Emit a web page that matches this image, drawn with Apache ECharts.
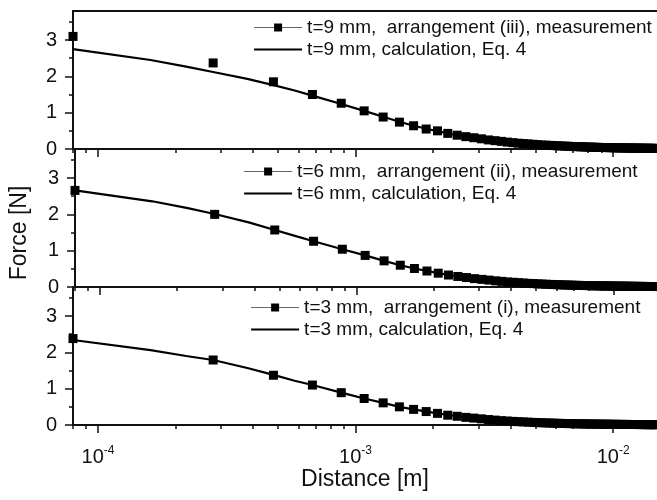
<!DOCTYPE html>
<html>
<head>
<meta charset="utf-8">
<script src="https://cdn.jsdelivr.net/npm/echarts@6/dist/echarts.min.js"></script>
<style>
  html, body { margin: 0; padding: 0; background: #fff; }
  #chart { width: 657px; height: 500px; }
</style>
</head>
<body>
<div id="chart"></div>
<script>
// measured points, distance in m
var distance = [
  0.08e-3, 0.28e-3, 0.48e-3, 0.68e-3, 0.88e-3, 1.08e-3, 1.28e-3, 1.48e-3, 1.68e-3, 1.88e-3,
  2.08e-3, 2.28e-3, 2.48e-3, 2.68e-3, 2.88e-3, 3.08e-3, 3.28e-3, 3.48e-3, 3.68e-3, 3.88e-3,
  4.08e-3, 4.28e-3, 4.48e-3, 4.68e-3, 4.88e-3, 5.08e-3, 5.28e-3, 5.48e-3, 5.68e-3, 5.88e-3,
  6.08e-3, 6.28e-3, 6.48e-3, 6.68e-3, 6.88e-3, 7.08e-3, 7.28e-3, 7.48e-3, 7.68e-3, 7.88e-3,
  8.08e-3, 8.28e-3, 8.48e-3, 8.68e-3, 8.88e-3, 9.08e-3, 9.28e-3, 9.48e-3, 9.68e-3, 9.88e-3,
  10.08e-3, 10.28e-3, 10.48e-3, 10.68e-3, 10.88e-3, 11.08e-3, 11.28e-3, 11.48e-3, 11.68e-3, 11.88e-3,
  12.08e-3, 12.28e-3, 12.48e-3, 12.68e-3, 12.88e-3, 13.08e-3, 13.28e-3, 13.48e-3, 13.68e-3, 13.88e-3,
  14.08e-3, 14.28e-3, 14.48e-3, 14.68e-3
];
var force9 = [
  3.10, 2.37, 1.85, 1.50, 1.26, 1.05, 0.88, 0.74, 0.64, 0.55,
  0.50, 0.43, 0.38, 0.34, 0.31, 0.28, 0.25, 0.23, 0.21, 0.19,
  0.175, 0.16, 0.15, 0.14, 0.13, 0.12, 0.11, 0.105, 0.10, 0.094,
  0.089, 0.084, 0.079, 0.075, 0.071, 0.067, 0.064, 0.061, 0.058, 0.055,
  0.053, 0.050, 0.048, 0.046, 0.044, 0.042, 0.040, 0.039, 0.037, 0.036,
  0.034, 0.033, 0.032, 0.031, 0.030, 0.029, 0.028, 0.027, 0.026, 0.025,
  0.024, 0.024, 0.023, 0.022, 0.022, 0.021, 0.020, 0.020, 0.019, 0.019,
  0.018, 0.018, 0.017, 0.017
];
var force6 = [
  2.66, 2.00, 1.57, 1.26, 1.04, 0.87, 0.72, 0.60, 0.51, 0.44,
  0.38, 0.33, 0.29, 0.26, 0.23, 0.21, 0.19, 0.17, 0.155, 0.14,
  0.13, 0.12, 0.11, 0.10, 0.094, 0.087, 0.081, 0.076, 0.071, 0.067,
  0.063, 0.059, 0.056, 0.053, 0.050, 0.047, 0.045, 0.043, 0.041, 0.039,
  0.037, 0.035, 0.034, 0.032, 0.031, 0.030, 0.029, 0.028, 0.027, 0.026,
  0.025, 0.024, 0.023, 0.022, 0.022, 0.021, 0.020, 0.020, 0.019, 0.018,
  0.018, 0.017, 0.017, 0.016, 0.016, 0.015, 0.015, 0.015, 0.014, 0.014,
  0.013, 0.013, 0.013, 0.012
];
var force3 = [
  2.38, 1.79, 1.37, 1.10, 0.89, 0.73, 0.61, 0.50, 0.43, 0.37,
  0.32, 0.27, 0.24, 0.21, 0.19, 0.17, 0.15, 0.135, 0.12, 0.11,
  0.10, 0.092, 0.085, 0.078, 0.072, 0.067, 0.062, 0.058, 0.054, 0.050,
  0.047, 0.044, 0.042, 0.039, 0.037, 0.035, 0.033, 0.032, 0.030, 0.029,
  0.028, 0.026, 0.025, 0.024, 0.023, 0.022, 0.021, 0.021, 0.020, 0.019,
  0.018, 0.018, 0.017, 0.017, 0.016, 0.016, 0.015, 0.015, 0.014, 0.014,
  0.013, 0.013, 0.013, 0.012, 0.012, 0.012, 0.011, 0.011, 0.011, 0.010,
  0.010, 0.010, 0.010, 0.009
];

// calculation (Eq. 4)
var calcDistance = [
  0.08e-3, 0.16e-3, 0.22e-3, 0.28e-3, 0.38e-3, 0.48e-3, 0.58e-3, 0.68e-3, 0.88e-3, 1.08e-3,
  1.28e-3, 1.48e-3, 1.68e-3, 2.08e-3, 2.48e-3, 3.08e-3, 3.68e-3, 4.48e-3, 5.48e-3, 6.48e-3,
  8.08e-3, 10.08e-3, 12.08e-3, 14.68e-3
];
var calc9 = [2.75, 2.45, 2.27, 2.12, 1.93, 1.76, 1.61, 1.47, 1.24, 1.05, 0.89, 0.75, 0.64, 0.49, 0.38, 0.28, 0.21, 0.15, 0.105, 0.079, 0.053, 0.034, 0.024, 0.017];
var calc6 = [2.66, 2.36, 2.17, 2.01, 1.78, 1.57, 1.40, 1.26, 1.04, 0.87, 0.72, 0.60, 0.51, 0.38, 0.29, 0.21, 0.155, 0.11, 0.081, 0.059, 0.039, 0.026, 0.019, 0.012];
var calc3 = [2.34, 2.06, 1.90, 1.79, 1.57, 1.38, 1.22, 1.10, 0.89, 0.73, 0.61, 0.50, 0.43, 0.32, 0.24, 0.17, 0.12, 0.085, 0.062, 0.044, 0.028, 0.018, 0.013, 0.009];

var measNames = [
  't=9 mm,  arrangement (iii), measurement',
  't=6 mm,  arrangement (ii), measurement',
  't=3 mm,  arrangement (i), measurement'
];
var calcNames = [
  't=9 mm, calculation, Eq. 4',
  't=6 mm, calculation, Eq. 4',
  't=3 mm, calculation, Eq. 4'
];

var xMajorTicks = [1e-4, 1e-3, 1e-2];
var xMinorTicks = [8e-5, 9e-5, 2e-4, 3e-4, 4e-4, 5e-4, 6e-4, 7e-4, 8e-4, 9e-4,
  2e-3, 3e-3, 4e-3, 5e-3, 6e-3, 7e-3, 8e-3, 9e-3];
var yMajorTicks = [0, 1, 2, 3];
var yMinorTicks = [0.5, 1.5, 2.5, 3.5];

var measData = [force9, force6, force3];
var calcData = [calc9, calc6, calc3];

var font = 'Liberation Sans, Arial, sans-serif';
var ink = '#111';
var panelTops = [11, 149, 287];
var panelHeight = 138;
var legendLefts = [248, 238, 245];
var legendTops = [13, 157, 293];

function pairs(xs, ys) {
  return xs.map(function (x, i) { return [x, ys[i]]; });
}

var grids = [], xAxes = [], yAxes = [], series = [], legends = [];
var xMainIndex = [];

for (var p = 0; p < 3; p++) {
  grids.push({ left: 73, right: 0, top: panelTops[p], height: panelHeight });
  var last = p === 2;
  var xBase = {
    type: 'log', gridIndex: p, position: 'bottom', min: 8e-5, max: 0.0148,
    splitLine: { show: false }, minorTick: { show: false }
  };
  xMainIndex.push(xAxes.length);
  xAxes.push(Object.assign({}, xBase, {
    axisLine: { show: true, lineStyle: { color: ink, width: 2 } },
    axisTick: { show: true, length: 8, lineStyle: { color: ink, width: 1.5 }, customValues: xMajorTicks },
    axisLabel: {
      show: last, customValues: xMajorTicks, margin: 20, color: ink,
      formatter: function (v) {
        return '{b|10}{s|' + Math.round(Math.log10(v)) + '}';
      },
      rich: {
        b: { fontSize: 20, fontFamily: font, color: ink, verticalAlign: 'bottom' },
        s: { fontSize: 12, fontFamily: font, color: ink, verticalAlign: 'bottom', padding: [0, 0, 10, 0] }
      }
    },
    name: last ? 'Distance [m]' : '',
    nameLocation: 'middle', nameGap: 42,
    nameTextStyle: { fontSize: 23, fontFamily: font, color: ink }
  }));
  xAxes.push(Object.assign({}, xBase, {
    axisLine: { show: false },
    axisTick: { show: true, length: 4, lineStyle: { color: ink, width: 1.5 }, customValues: xMinorTicks },
    axisLabel: { show: false }
  }));
  if (p === 0) {
    xAxes.push(Object.assign({}, xBase, {
      position: 'top',
      axisLine: { show: true, lineStyle: { color: ink, width: 2 } },
      axisTick: { show: false }, axisLabel: { show: false }
    }));
  }

  var yBase = {
    type: 'value', gridIndex: p, position: 'left', min: 0, max: 3.8,
    splitLine: { show: false }
  };
  yAxes.push(Object.assign({}, yBase, {
    axisLine: { show: true, lineStyle: { color: ink, width: 2 } },
    axisTick: { show: true, length: 8, lineStyle: { color: ink, width: 1.5 }, customValues: yMajorTicks },
    axisLabel: { show: true, customValues: yMajorTicks, margin: 16, fontSize: 20, fontFamily: font, color: ink },
    name: p === 1 ? 'Force [N]' : '',
    nameLocation: 'middle', nameGap: 44,
    nameTextStyle: { fontSize: 23, fontFamily: font, color: ink, padding: [0, 30, 0, 0] }
  }));
  yAxes.push(Object.assign({}, yBase, {
    axisLine: { show: false },
    axisTick: { show: true, length: 4, lineStyle: { color: ink, width: 1.5 }, customValues: yMinorTicks },
    axisLabel: { show: false }
  }));

  series.push({
    name: calcNames[p], type: 'line', xAxisIndex: xMainIndex[p], yAxisIndex: 2 * p,
    data: pairs(calcDistance, calcData[p]),
    symbol: 'none', lineStyle: { color: '#000', width: 2.2 }, itemStyle: { color: '#000' }, z: 3
  });
  series.push({
    name: measNames[p], type: 'line', xAxisIndex: xMainIndex[p], yAxisIndex: 2 * p,
    data: pairs(distance, measData[p]),
    symbol: 'rect', symbolSize: 9, showAllSymbol: true,
    lineStyle: { opacity: 0, width: 1 }, itemStyle: { color: '#000' }, z: 4
  });

  legends.push({
    orient: 'vertical', left: legendLefts[p], top: legendTops[p],
    itemWidth: 48, itemHeight: 10, itemGap: 3,
    textStyle: { fontSize: 19, fontFamily: font, color: ink },
    selectedMode: false,
    data: [
      { name: measNames[p], lineStyle: { color: '#666', width: 1, opacity: 1 } },
      { name: calcNames[p], itemStyle: { opacity: 0 }, lineStyle: { color: '#000', width: 2.2, opacity: 1 } }
    ]
  });
}

var chart = echarts.init(document.getElementById('chart'));
chart.setOption({
  animation: false,
  backgroundColor: '#fff',
  grid: grids,
  xAxis: xAxes,
  yAxis: yAxes,
  legend: legends,
  series: series
});
</script>
</body>
</html>
